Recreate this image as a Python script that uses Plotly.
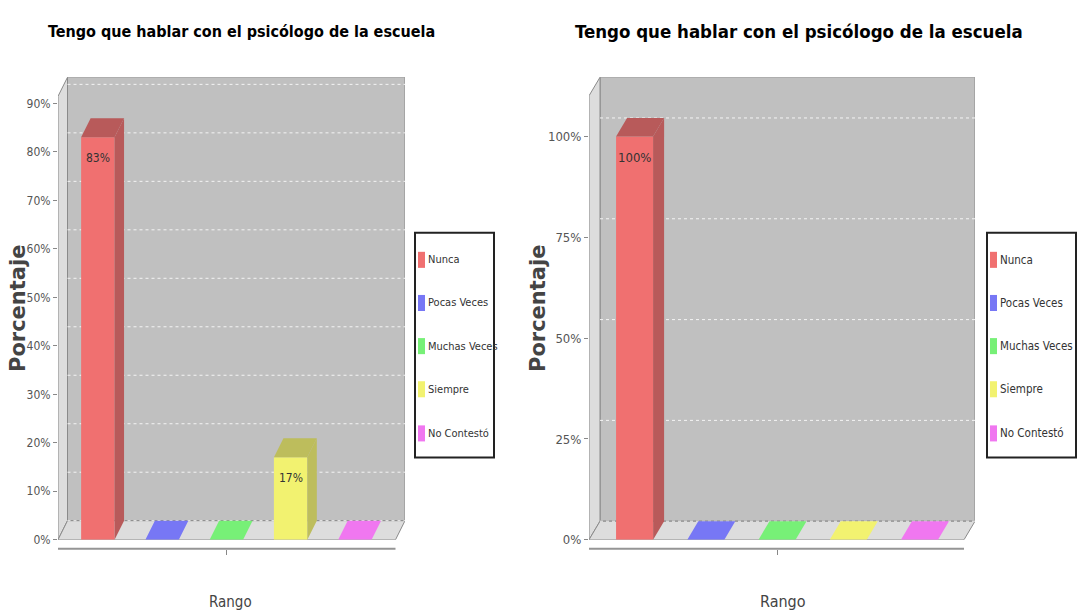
import plotly.graph_objects as go

# ---------------- data ----------------
series = ["Nunca", "Pocas Veces", "Muchas Veces", "Siempre", "No Contestó"]
values_left = [83, 0, 0, 17, 0]
values_right = [100, 0, 0, 0, 0]
ticks_left = [0, 10, 20, 30, 40, 50, 60, 70, 80, 90]
ticks_right = [0, 25, 50, 75, 100]
chart_title = "Tengo que hablar con el psicólogo de la escuela"
x_title = "Rango"
y_title = "Porcentaje"

# ---------------- styles ----------------
front_colors = ["#f07070", "#7777f5", "#77f077", "#f2f270", "#f077f0"]
dark_colors = ["#b85a5a", "#5a5ab8", "#5ab85a", "#bdbd5c", "#b85ab8"]
W, H = 1081, 616          # reference picture size (layout coordinates below are in these pixels)
FIG_H = 626               # page height of the figure
NARROW = "Liberation Sans Narrow, DejaVu Sans Condensed, Roboto Condensed, Roboto, sans-serif"


def px(x):
    return x / W


def py(y):
    return 1 - y / H


charts = [
    dict(values=values_left, ticks=ticks_left, ax="", xdom=(58, 405), ybot=538, ytop=77,
         xr=(-0.62, 4.78), ytop_val=95.4, dxpx=9.5, dypx=19, barw=0.52,
         title_x=241, title_size=16, tick_size=12, lab_size=12, leg_size=11,
         ylab_x=18, rango_x=230, rango_size=15,
         legend_box=(415, 494, 232, 456)),
    dict(values=values_right, ticks=ticks_right, ax="2", xdom=(589, 975), ybot=538, ytop=77,
         xr=(-0.64, 4.78), ytop_val=114.7, dxpx=11, dypx=18.5, barw=0.52,
         title_x=799, title_size=18.5, tick_size=13, lab_size=13, leg_size=11.5,
         ylab_x=538, rango_x=783, rango_size=16,
         legend_box=(987, 1076, 232, 456)),
]

fig = go.Figure()
shapes = []
annotations = []
layout_axes = {}

for c in charts:
    ax = c["ax"]
    xref, yref = "x" + ax, "y" + ax
    x0, x1 = c["xr"]
    top = c["ytop_val"]
    ux = (c["xdom"][1] - c["xdom"][0]) / (x1 - x0)      # px per x unit
    uy = (c["ybot"] - c["ytop"]) / top                    # px per % unit
    dx = c["dxpx"] / ux
    dy = c["dypx"] / uy
    xf = x1 - dx          # front right edge
    hw = c["barw"] / 2

    # walls and floor
    shapes.append(dict(type="rect", xref=xref, yref=yref, x0=x0 + dx, x1=x1, y0=dy, y1=top,
                       fillcolor="#c0c0c0", line=dict(color="#8a8a8a", width=1), layer="below"))
    shapes.append(dict(type="path", xref=xref, yref=yref, layer="below",
                       path=f"M {x0},0 L {x0},{top - dy} L {x0 + dx},{top} L {x0 + dx},{dy} Z",
                       fillcolor="#dddddd", line=dict(color="#8a8a8a", width=1)))
    shapes.append(dict(type="path", xref=xref, yref=yref, layer="below",
                       path=f"M {x0},0 L {xf},0 L {x1},{dy} L {x0 + dx},{dy} Z",
                       fillcolor="#dddddd", line=dict(color="#8a8a8a", width=1)))
    # gridlines on back wall
    for t in c["ticks"]:
        if t + dy < top:
            shapes.append(dict(type="line", xref=xref, yref=yref, layer="below",
                               x0=x0 + dx, x1=x1, y0=t + dy, y1=t + dy,
                               line=dict(color="#f4f4f4", width=1, dash="dot")))
    # x axis line below plot
    shapes.append(dict(type="line", xref=xref, yref="paper", x0=x0, x1=xf,
                       y0=py(547), y1=py(547), line=dict(color="#959595", width=2)))

    # bars (front faces) + 3D side/top faces
    for i, (name, v) in enumerate(zip(series, c["values"])):
        fig.add_trace(go.Bar(x=[i], y=[v], width=c["barw"], name=name,
                             marker=dict(color=front_colors[i], line=dict(width=0)),
                             xaxis=xref, yaxis=yref, showlegend=False,
                             hovertemplate=f"{name}: %{{y}}%<extra></extra>"))
        top_col = dark_colors[i] if v > 0 else front_colors[i]
        if v > 0:
            fig.add_trace(go.Scatter(
                x=[i + hw, i + hw + dx, i + hw + dx, i + hw, i + hw],
                y=[0, dy, v + dy, v, 0], mode="lines", fill="toself",
                fillcolor=dark_colors[i], line=dict(width=0, color=dark_colors[i]),
                xaxis=xref, yaxis=yref, showlegend=False, hoverinfo="skip"))
        fig.add_trace(go.Scatter(
            x=[i - hw, i + hw, i + hw + dx, i - hw + dx, i - hw],
            y=[v, v, v + dy, v + dy, v], mode="lines", fill="toself",
            fillcolor=top_col, line=dict(width=0, color=top_col),
            xaxis=xref, yaxis=yref, showlegend=False, hoverinfo="skip"))
        if v > 0:
            annotations.append(dict(x=i, y=v, xref=xref, yref=yref, text=f"{v}%",
                                    showarrow=False, yshift=-21, xanchor="center",
                                    font=dict(family=NARROW, size=c["lab_size"], color="#333333")))

    layout_axes["xaxis" + ax] = dict(domain=[px(c["xdom"][0]), px(c["xdom"][1])],
                                     range=list(c["xr"]), anchor="free", position=py(547),
                                     showgrid=False, zeroline=False, showline=False,
                                     tickvals=[2], ticktext=[""], ticks="outside",
                                     ticklen=5, tickcolor="#888888", fixedrange=True)
    layout_axes["yaxis" + ax] = dict(domain=[py(c["ybot"]), py(c["ytop"])],
                                     range=[0, top], anchor=xref,
                                     showgrid=False, zeroline=False, showline=False,
                                     tickvals=c["ticks"], ticktext=[f"{t}%" for t in c["ticks"]],
                                     ticks="outside", ticklen=4, tickcolor="#888888",
                                     tickfont=dict(family=NARROW, size=c["tick_size"], color="#555555"),
                                     fixedrange=True)

    # titles
    annotations.append(dict(x=px(c["title_x"]), y=py(31), xref="paper", yref="paper",
                            xanchor="center", yanchor="middle",
                            text=chart_title, showarrow=False,
                            font=dict(family=NARROW, size=c["title_size"], color="#000000",
                                      weight="bold")))
    annotations.append(dict(x=px(c["ylab_x"]), y=py(308), xref="paper", yref="paper",
                            xanchor="center", yanchor="middle",
                            text=y_title, showarrow=False, textangle=-90,
                            font=dict(family="DejaVu Sans", size=21, color="#444444",
                                      weight="bold")))
    annotations.append(dict(x=px(c["rango_x"]), y=py(600), xref="paper", yref="paper",
                            xanchor="center", yanchor="middle",
                            text=x_title, showarrow=False,
                            font=dict(family=NARROW, size=c["rango_size"], color="#444444")))

    # legend box (drawn)
    lx0, lx1, ly0, ly1 = c["legend_box"]
    shapes.append(dict(type="rect", xref="paper", yref="paper", x0=px(lx0), x1=px(lx1),
                       y0=py(ly1), y1=py(ly0), fillcolor="white",
                       line=dict(color="#222222", width=2)))
    item_y = [259, 302, 345, 388, 432]
    for i, name in enumerate(series):
        shapes.append(dict(type="rect", xref="paper", yref="paper",
                           x0=px(lx0 + 3), x1=px(lx0 + 10),
                           y0=py(item_y[i] + 8), y1=py(item_y[i] - 8),
                           fillcolor=front_colors[i], line=dict(width=0)))
        annotations.append(dict(x=px(lx0 + 11), y=py(item_y[i]), xref="paper", yref="paper",
                                xanchor="left", yanchor="middle", text=name, showarrow=False,
                                font=dict(family=NARROW, size=c["leg_size"], color="#333333")))

fig.update_layout(
    width=W, height=FIG_H, margin=dict(l=0, r=0, t=0, b=0),
    paper_bgcolor="white", plot_bgcolor="white",
    barmode="overlay", showlegend=False,
    shapes=shapes, annotations=annotations,
    **layout_axes,
)

fig.write_html(
    "out.html",
    config={"displayModeBar": False},
    post_script=(
        "document.documentElement.style.overflow='hidden';"
        "document.body.style.margin='0';document.body.style.overflow='hidden';"
        "var d=document.getElementById('{plot_id}');"
        "d.style.position='fixed';d.style.left='0px';d.style.top='0px';"
    ),
)
